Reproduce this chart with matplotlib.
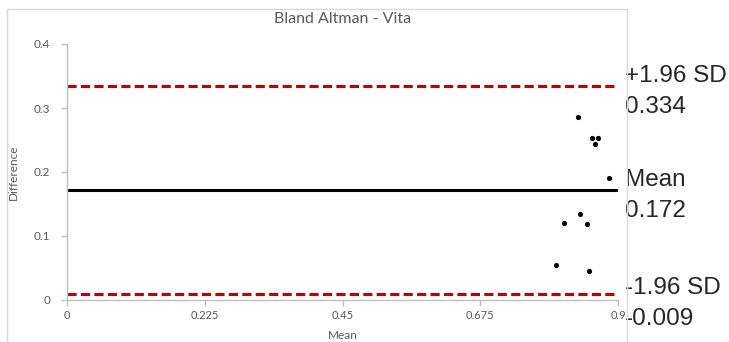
import matplotlib
matplotlib.use("Agg")
import matplotlib.pyplot as plt
from matplotlib.patches import Rectangle
import matplotlib.transforms as mtransforms

# ---- data ----
title = "Bland Altman - Vita"
x_label = "Mean"
y_label = "Difference"
mean_vals = [0.834, 0.857, 0.867, 0.863, 0.886, 0.838, 0.811, 0.849, 0.798, 0.853]
diff_vals = [0.286, 0.253, 0.253, 0.244, 0.191, 0.134, 0.120, 0.118, 0.054, 0.045]
mean_diff = 0.172
upper_loa = 0.334
lower_loa = 0.009
line_names = ["+1.96 SD", "Mean", "-1.96 SD"]
line_value_labels = ["0.334", "0.172", "-0.009"]
x_ticks = [0, 0.225, 0.45, 0.675, 0.9]
x_tick_labels = ["0", "0.225", "0.45", "0.675", "0.9"]
y_ticks = [0, 0.1, 0.2, 0.3, 0.4]
y_tick_labels = ["0", "0.1", "0.2", "0.3", "0.4"]

W, H = 729, 342
fig = plt.figure(figsize=(W / 100, H / 100), dpi=100)
fig.patch.set_facecolor("white")

# outer chart border
fig.patches.append(Rectangle((7 / W, -0.05), 620 / W, 1.05 - 9 / H,
                             transform=fig.transFigure, fill=False,
                             edgecolor="#d9d9d9", linewidth=1.0))

ax = fig.add_axes([67 / W, 42 / H, 551 / W, 256 / H])
ax.set_xlim(0, 0.9)
ax.set_ylim(0, 0.4)

red = "#c00000"
ax.axhline(upper_loa, color=red, lw=2.2, ls=(0, (3.0, 1.4)), zorder=2)
ax.axhline(lower_loa, color=red, lw=2.2, ls=(0, (3.0, 1.4)), zorder=2)
ax.axhline(mean_diff, color="black", lw=2.2, zorder=2)
ax.scatter(mean_vals, diff_vals, s=14, color="black", zorder=3, linewidths=0)

for s in ["top", "right"]:
    ax.spines[s].set_visible(False)
for s in ["left", "bottom"]:
    ax.spines[s].set_color("#bfbfbf")
    ax.spines[s].set_linewidth(1.0)

ax.set_xticks(x_ticks)
ax.set_xticklabels(x_tick_labels)
ax.set_yticks(y_ticks)
ax.set_yticklabels(y_tick_labels)
ax.tick_params(axis="both", colors="#bfbfbf", length=4, width=1.0,
               labelcolor="#595959")
ax.tick_params(axis="x", labelsize=8, pad=3)
ax.tick_params(axis="y", labelsize=8.5, pad=8)
for lab in ax.get_xticklabels() + ax.get_yticklabels():
    lab.set_family("Lato")

ax.set_title(title, fontsize=11.5, color="#595959", family="Lato", pad=15)
ax.set_xlabel(x_label, fontsize=8.5, color="#595959", family="Lato", labelpad=7)
ax.set_ylabel(y_label, fontsize=8.5, color="#595959", family="Lato", labelpad=11)

# side labels for lines
trans = mtransforms.blended_transform_factory(ax.transAxes, ax.transData)
line_vals = [upper_loa, mean_diff, lower_loa]
first_offsets_px = [4, 4, 0]
for name, vlab, val, off in zip(line_names, line_value_labels, line_vals, first_offsets_px):
    ax.annotate(name, xy=(1, val), xycoords=trans,
                xytext=(7 * 0.72, off * 0.72), textcoords="offset points",
                fontsize=17.5, family="Liberation Sans", color="#262626",
                va="baseline", ha="left", annotation_clip=False)
    ax.annotate(vlab, xy=(1, val), xycoords=trans,
                xytext=(7 * 0.72, (off - 31) * 0.72), textcoords="offset points",
                fontsize=17.5, family="Liberation Sans", color="#262626",
                va="baseline", ha="left", annotation_clip=False)

fig.savefig("out.png", dpi=100)
